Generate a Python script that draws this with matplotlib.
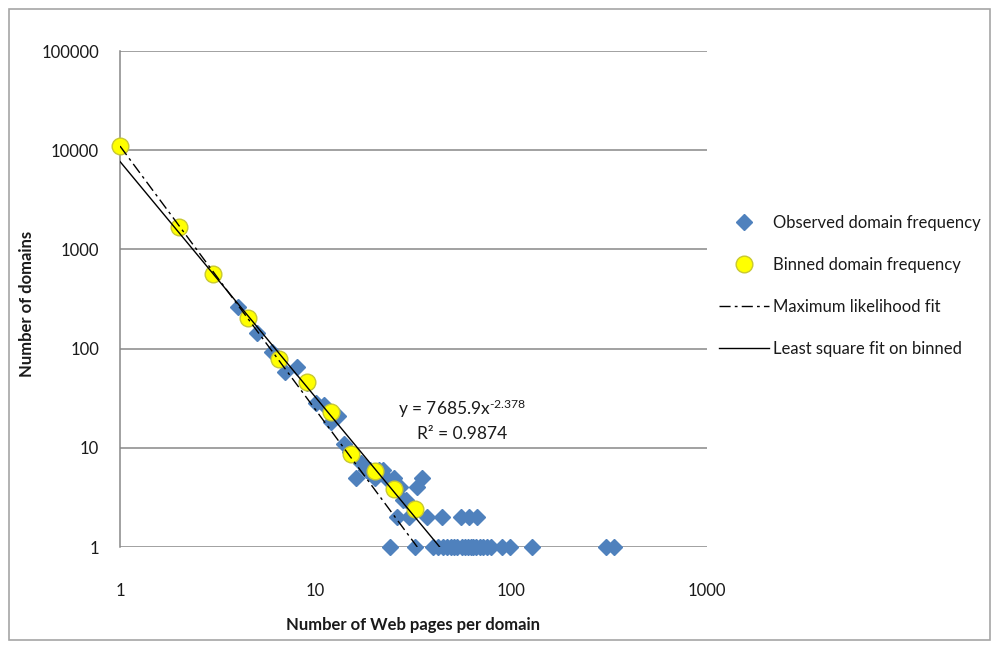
import numpy as np
import matplotlib
matplotlib.use('Agg')
import matplotlib.pyplot as plt
from matplotlib.lines import Line2D
from matplotlib.patches import Rectangle

# ---- data ----
obs_x = [4, 5, 6, 7, 8, 9, 10, 11, 12, 13, 14, 15, 16, 17, 18, 19, 20, 21, 22, 23,
         24, 25, 26, 27, 28, 29, 30, 32, 33, 35, 37, 40, 42, 44, 45, 47, 49, 51, 53,
         55, 56, 58, 60, 61, 62, 64, 66, 67, 69, 72, 75, 79, 90, 98, 128, 304, 335]
obs_y = [260, 145, 93, 58, 65, 45, 28, 27, 18, 21, 11, 9, 5, 7, 6, 6, 5, 6, 6, 5,
         1, 5, 2, 4, 3, 3, 2, 1, 4, 5, 2, 1, 1, 2, 1, 1, 1, 1, 1,
         2, 1, 1, 1, 2, 1, 1, 1, 2, 1, 1, 1, 1, 1, 1, 1, 1, 1]
bin_x = [1, 2, 3, 4.5, 6.5, 9, 12, 15.2, 20, 25, 32]
bin_y = [11000, 1700, 560, 205, 78, 46, 23, 8.7, 5.8, 3.8, 2.4]
ls_coef, ls_exp = 7685.9, -2.378     # least square fit on binned
ml_coef, ml_exp = 11000, -2.66       # maximum likelihood fit
x_ticks = [1, 10, 100, 1000]
y_ticks = [1, 10, 100, 1000, 10000, 100000]
legend_labels = ["Observed domain frequency", "Binned domain frequency",
                 "Maximum likelihood fit", "Least square fit on binned"]
eq_text = "y = 7685.9x$^{\u2010 2.378}$"
r2_text = "R² = 0.9874"

plt.rcParams['font.family'] = ['Lato', 'DejaVu Sans']
plt.rcParams['mathtext.fontset'] = 'custom'
plt.rcParams['mathtext.rm'] = 'Lato'
plt.rcParams['mathtext.it'] = 'Lato'
plt.rcParams['mathtext.default'] = 'rm'

W, H = 992, 645
fig = plt.figure(figsize=(W / 100, H / 100), dpi=100)
fig.patch.set_facecolor('white')
fig.add_artist(Rectangle((9 / W, 1 - 640 / H), (990 - 9) / W, (640 - 9) / H,
                         transform=fig.transFigure, fill=False,
                         edgecolor='#a6a6a6', linewidth=1.2))

ax = fig.add_axes([120 / W, 1 - 547 / H, (707 - 120) / W, (547 - 51) / H])
ax.set_xscale('log')
ax.set_yscale('log')
ax.set_xlim(1, 1000)
ax.set_ylim(1, 100000)

grid_c = '#878787'
for yv in y_ticks:
    ax.axhline(yv, color=grid_c, lw=1.1, zorder=1)
for s in ['top', 'right', 'bottom']:
    ax.spines[s].set_visible(False)
ax.spines['left'].set_color(grid_c)
ax.spines['left'].set_linewidth(1.1)

ax.set_xticks(x_ticks)
ax.set_xticklabels([str(v) for v in x_ticks])
ax.set_yticks(y_ticks)
ax.set_yticklabels([str(v) for v in y_ticks])
ax.minorticks_off()
ax.tick_params(axis='both', length=0, labelsize=12, colors='#1a1a1a')
ax.tick_params(axis='x', pad=26)
ax.tick_params(axis='y', pad=15)

blue = '#4F81BD'
ax.plot(obs_x, obs_y, linestyle='none', marker='D', ms=8, color=blue,
        mec=blue, clip_on=False, zorder=3)
ax.plot(bin_x, bin_y, linestyle='none', marker='o', ms=12, mfc='#ffff00',
        mec='#c8c832', mew=1.0, clip_on=False, zorder=4)

ml_end = ml_coef ** (-1 / ml_exp)
xm = np.logspace(0, np.log10(ml_end), 100)
ax.plot(xm, ml_coef * xm ** ml_exp, color='black', lw=1.0,
        linestyle=(0, (8, 3, 2, 3)), zorder=5)
ls_end = ls_coef ** (-1 / ls_exp)
xl = np.logspace(0, np.log10(ls_end), 100)
ax.plot(xl, ls_coef * xl ** ls_exp, color='black', lw=1.0, zorder=5)

fig.text(462 / W, 1 - 409 / H, eq_text, ha='center', va='center',
         fontsize=12.5, color='#1a1a1a')
fig.text(462 / W, 1 - 434 / H, r2_text, ha='center', va='center',
         fontsize=12.5, color='#1a1a1a')

fig.text(413 / W, 1 - 625 / H, "Number of Web pages per domain", ha='center',
         va='center', fontsize=12, fontweight='bold', color='#1a1a1a')
fig.text(27 / W, 1 - 304 / H, "Number of domains", ha='center', va='center',
         rotation=90, fontsize=12, fontweight='bold', color='#1a1a1a')

handles = [
    Line2D([], [], linestyle='none', marker='D', ms=8, color=blue),
    Line2D([], [], linestyle='none', marker='o', ms=12, mfc='#ffff00', mec='#c8c832'),
    Line2D([], [], color='black', lw=1.0, linestyle=(0, (8, 3, 2, 3))),
    Line2D([], [], color='black', lw=1.0),
]
fig.legend(handles, legend_labels, loc='center left',
           bbox_to_anchor=(712 / W, 1 - 286 / H), frameon=False, fontsize=12,
           labelspacing=1.55, handlelength=3.0, handletextpad=0.25,
           borderaxespad=0, labelcolor='#1a1a1a')

fig.savefig('out.png', dpi=100, facecolor='white')
